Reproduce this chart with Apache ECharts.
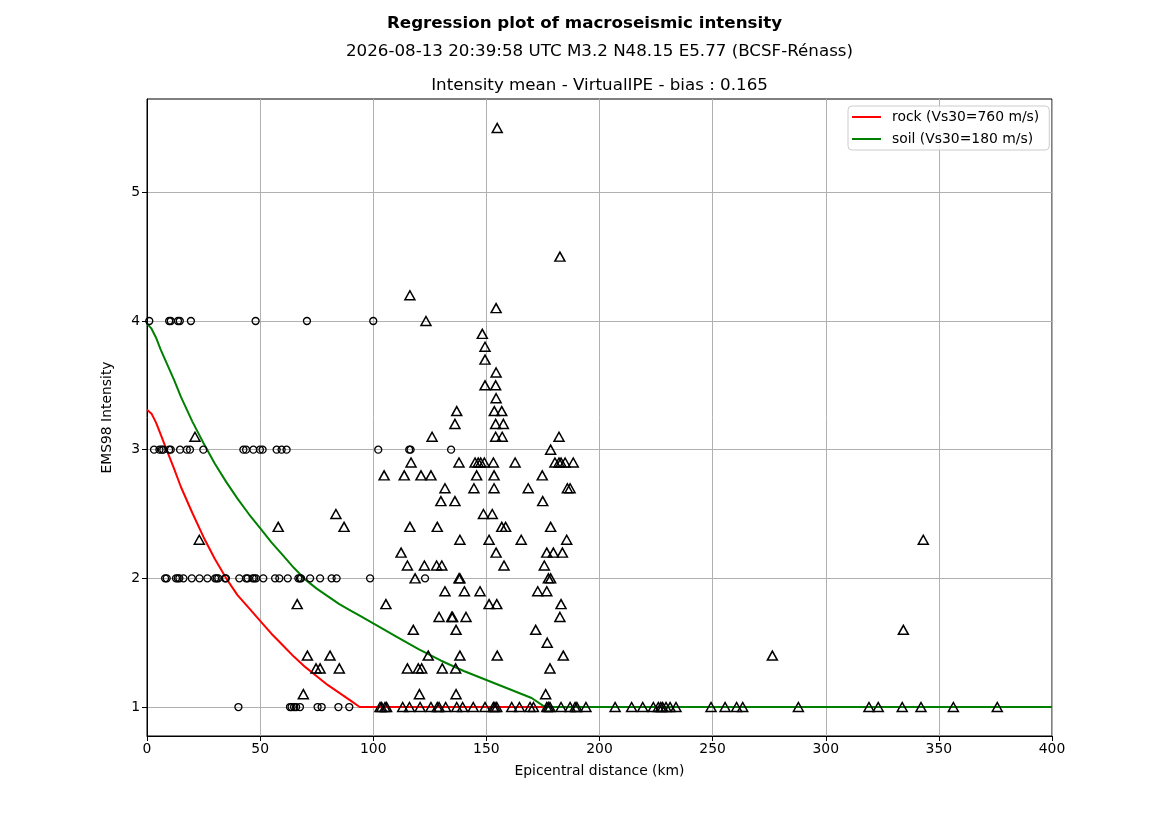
<!DOCTYPE html>
<html><head><meta charset="utf-8">
<script src="https://cdn.jsdelivr.net/npm/echarts@6/dist/echarts.min.js"></script>
<style>html,body{margin:0;padding:0;background:#fff}#c{width:1169px;height:827px}</style>
</head><body><div id="c"></div>
<script>
const FONT = 'DejaVu Sans';
const xTicks = [0, 50, 100, 150, 200, 250, 300, 350, 400];
const yTicks = [1, 2, 3, 4, 5];

// circles (observed intensity, integer levels)
const circlesAt4 = [1.0, 9.8, 10.5, 13.7, 14.5, 19.4, 48.0, 70.7, 100.0];
const circlesAt3 = [3.1, 5.5, 6.5, 7.2, 9.8, 10.5, 14.6, 17.6, 19.0, 24.9, 42.6, 43.8, 47.0, 49.9, 51.1, 57.3, 59.5, 61.7, 102.2, 115.9, 116.5, 134.4];
const circlesAt2 = [8.0, 8.7, 12.8, 13.6, 14.3, 16.1, 19.8, 23.2, 26.7, 30.1, 30.8, 31.5, 34.5, 34.9, 40.8, 43.8, 44.5, 46.7, 47.4, 48.2, 51.4, 56.6, 58.5, 62.2, 66.9, 67.6, 68.1, 72.1, 76.5, 81.6, 83.8, 98.6, 122.9];
const circlesAt1 = [40.4, 63.2, 63.9, 65.0, 65.9, 67.6, 75.4, 77.2, 84.6, 89.4];

// triangles: [distance km, intensity]
const triangleObs = [
  [103.0,1],[103.7,1],[105.2,1],[105.9,1],[113.0,1],[116.0,1],[120.7,1],[125.5,1],[128.3,1],[129.1,1],
  [132.0,1],[136.9,1],[139.5,1],[144.2,1],[149.4,1],[153.1,1],[153.8,1],[154.6,1],[161.2,1],[164.6,1],
  [169.3,1],[170.8,1],[176.7,1],[177.4,1],[178.1,1],[183.0,1],[187.0,1],[189.2,1],[190.0,1],[194.0,1],
  [206.9,1],[214.2,1],[219.1,1],[223.8,1],[226.0,1],[227.1,1],[227.9,1],[229.4,1],[231.2,1],[233.8,1],
  [249.3,1],[255.5,1],[260.6,1],[263.3,1],[287.9,1],[319.1,1],[323.2,1],[333.8,1],[342.1,1],[356.4,1],[375.8,1],
  [69.1,1.1],[120.4,1.1],[136.6,1.1],[176.2,1.1],
  [74.7,1.3],[76.5,1.3],[85.0,1.3],[115.1,1.3],[119.9,1.3],[121.4,1.3],[130.5,1.3],[136.4,1.3],[178.1,1.3],
  [70.9,1.4],[80.9,1.4],[124.3,1.4],[138.3,1.4],[154.8,1.4],[184.0,1.4],[276.4,1.4],
  [176.9,1.5],
  [117.7,1.6],[136.6,1.6],[171.8,1.6],[334.3,1.6],
  [129.1,1.7],[134.7,1.7],[135.1,1.7],[141.0,1.7],[182.5,1.7],
  [66.4,1.8],[105.6,1.8],[151.2,1.8],[154.6,1.8],[183.0,1.8],
  [131.7,1.9],[140.3,1.9],[147.2,1.9],[172.7,1.9],[176.7,1.9],
  [118.5,2.0],[137.9,2.0],[138.3,2.0],[177.4,2.0],[178.4,2.0],
  [115.1,2.1],[122.6,2.1],[128.0,2.1],[130.3,2.1],[157.8,2.1],[175.6,2.1],
  [112.3,2.2],[154.3,2.2],[176.7,2.2],[179.6,2.2],[183.6,2.2],
  [23.1,2.3],[138.3,2.3],[151.2,2.3],[165.4,2.3],[185.5,2.3],[343.1,2.3],
  [58.0,2.4],[87.1,2.4],[116.2,2.4],[128.3,2.4],[156.8,2.4],[158.5,2.4],[178.4,2.4],
  [83.5,2.5],[148.7,2.5],[152.6,2.5],
  [129.9,2.6],[136.1,2.6],[174.9,2.6],
  [131.7,2.7],[144.5,2.7],[153.4,2.7],[168.5,2.7],[185.8,2.7],[187.0,2.7],
  [104.8,2.8],[113.7,2.8],[121.1,2.8],[125.5,2.8],[145.7,2.8],[153.4,2.8],[174.7,2.8],
  [116.7,2.9],[137.9,2.9],[145.0,2.9],[146.4,2.9],[147.5,2.9],[149.1,2.9],[153.1,2.9],[162.7,2.9],
  [180.3,2.9],[182.1,2.9],[183.0,2.9],[184.8,2.9],[188.4,2.9],
  [178.4,3.0],
  [21.2,3.1],[126.0,3.1],[154.1,3.1],[157.0,3.1],[182.1,3.1],
  [136.1,3.2],[154.1,3.2],[157.5,3.2],
  [136.9,3.3],[153.5,3.3],[156.8,3.3],
  [154.3,3.4],
  [149.4,3.5],[154.1,3.5],
  [154.3,3.6],[149.4,3.7],[149.4,3.8],[148.2,3.9],
  [123.3,4.0],[154.3,4.1],[116.2,4.2],[182.5,4.5],[154.8,5.5]
];

// regression curves
const curveDist = [0, 2, 4, 6, 8, 10, 12, 15, 20, 25, 30, 35, 40, 45, 50, 55, 60, 65, 70, 75, 80, 85, 90, 94, 100, 110, 120, 130, 140, 150, 160, 170, 176, 200, 300, 400];
const rockCurve = [3.31, 3.28, 3.21, 3.12, 3.03, 2.94, 2.85, 2.71, 2.51, 2.32, 2.15, 2.00, 1.87, 1.77, 1.67, 1.57, 1.48, 1.39, 1.31, 1.24, 1.17, 1.11, 1.05, 1.0, 1.0, 1.0, 1.0, 1.0, 1.0, 1.0, 1.0, 1.0, 1.0, 1.0, 1.0, 1.0];
const soilCurve = [3.98, 3.94, 3.87, 3.78, 3.70, 3.62, 3.54, 3.41, 3.22, 3.05, 2.89, 2.75, 2.62, 2.50, 2.39, 2.28, 2.18, 2.08, 1.99, 1.92, 1.86, 1.80, 1.75, 1.71, 1.65, 1.55, 1.45, 1.36, 1.28, 1.21, 1.14, 1.07, 1.0, 1.0, 1.0, 1.0];

const chart = echarts.init(document.getElementById('c'));
const pair = (xs, y) => xs.map(x => [x, y]);
const circleData = [].concat(pair(circlesAt4, 4), pair(circlesAt3, 3), pair(circlesAt2, 2), pair(circlesAt1, 1));
const zip = (xs, ys) => xs.map((x, i) => [x, ys[i]]);

chart.setOption({
  animation: false,
  textStyle: { fontFamily: FONT },
  graphic: [
    { type: 'text', x: 584.5, y: 24, style: { text: 'Regression plot of macroseismic intensity', font: 'bold 16.7px ' + FONT, fill: '#000', align: 'center', verticalAlign: 'middle' } },
    { type: 'text', x: 599.5, y: 52, style: { text: '2026-08-13 20:39:58 UTC M3.2 N48.15 E5.77 (BCSF-Rénass)', font: '16.7px ' + FONT, fill: '#000', align: 'center', verticalAlign: 'middle' } },
    { type: 'text', x: 599.5, y: 86, style: { text: 'Intensity mean - VirtualIPE - bias : 0.165', font: '16.7px ' + FONT, fill: '#000', align: 'center', verticalAlign: 'middle' } }
  ],
  grid: { left: 147, right: 117, top: 99, bottom: 91, show: true, borderColor: '#000', borderWidth: 1, backgroundColor: 'transparent' },
  legend: {
    left: 848, top: 106, orient: 'vertical',
    data: [{ name: 'rock (Vs30=760 m/s)', icon: 'rect' }, { name: 'soil (Vs30=180 m/s)', icon: 'rect' }],
    backgroundColor: 'rgba(255,255,255,0.85)', borderColor: '#cccccc', borderWidth: 1, borderRadius: 4,
    padding: [3, 10, 3, 4], itemGap: 6, itemWidth: 29, itemHeight: 2,
    textStyle: { fontFamily: FONT, fontSize: 13.9, color: '#000', padding: [0, 0, 0, 6], lineHeight: 16 }
  },
  xAxis: {
    type: 'value', min: 0, max: 400, interval: 50,
    name: 'Epicentral distance (km)', nameLocation: 'middle', nameGap: 28,
    nameTextStyle: { fontFamily: FONT, fontSize: 13.9, color: '#000' },
    axisLine: { show: true, lineStyle: { color: '#000', width: 1 } },
    axisTick: { show: true, length: 5, lineStyle: { color: '#000' } },
    axisLabel: { fontFamily: FONT, fontSize: 13.9, color: '#000', margin: 6 },
    splitLine: { show: true, lineStyle: { color: '#b0b0b0', width: 1 } }
  },
  yAxis: {
    type: 'value', min: 0.775, max: 5.725, splitNumber: 5,
    name: 'EMS98 Intensity', nameLocation: 'middle', nameGap: 33, nameRotate: 90,
    nameTextStyle: { fontFamily: FONT, fontSize: 13.9, color: '#000' },
    axisLine: { show: true, lineStyle: { color: '#000', width: 1 } },
    axisTick: { show: true, length: 5, lineStyle: { color: '#000' }, customValues: yTicks },
    axisLabel: { fontFamily: FONT, fontSize: 13.9, color: '#000', margin: 7, customValues: yTicks },
    splitLine: { show: true, lineStyle: { color: '#b0b0b0', width: 1 } }
  },
  series: [
    { type: 'scatter', name: 'circles', data: circleData, symbol: 'circle', symbolSize: 7,
      itemStyle: { color: 'rgba(0,0,0,0)', borderColor: '#000', borderWidth: 1.3, opacity: 1 }, emphasis: { disabled: true }, z: 3 },
    { type: 'scatter', name: 'triangles', data: triangleObs, symbol: 'triangle', symbolSize: [10, 9],
      itemStyle: { color: 'rgba(0,0,0,0)', borderColor: '#000', borderWidth: 1.5, opacity: 1 }, emphasis: { disabled: true }, z: 3 },
    { type: 'line', name: 'rock (Vs30=760 m/s)', data: zip(curveDist, rockCurve), symbol: 'none', smooth: false,
      lineStyle: { color: '#ff0000', width: 2 }, itemStyle: { color: '#ff0000' }, z: 2 },
    { type: 'line', name: 'soil (Vs30=180 m/s)', data: zip(curveDist, soilCurve), symbol: 'none', smooth: false,
      lineStyle: { color: '#008000', width: 2 }, itemStyle: { color: '#008000' }, z: 2 }
  ]
});
</script></body></html>
